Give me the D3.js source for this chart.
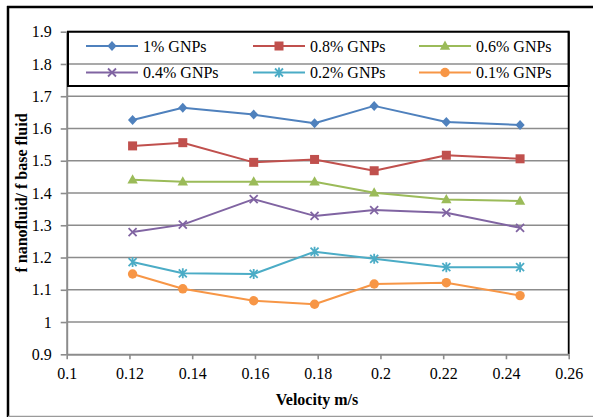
<!DOCTYPE html>
<html>
<head>
<meta charset="utf-8">
<script src="https://cdn.jsdelivr.net/npm/d3@7"></script>
<style>
  html, body { margin: 0; padding: 0; background: #fff; }
  svg { display: block; }
  text { font-family: "Liberation Serif", "Times New Roman", serif; fill: #000; }
</style>
</head>
<body>
<svg id="chart" width="593" height="417"></svg>
<script>
// Velocity (m/s) at each measurement
const velocity = [0.121, 0.137, 0.1596, 0.179, 0.198, 0.221, 0.2445];

// Friction factor ratio f_nanofluid / f_base_fluid per concentration
const seriesNames = ["1% GNPs", "0.8% GNPs", "0.6% GNPs", "0.4% GNPs", "0.2% GNPs", "0.1% GNPs"];
const gnp1  = [1.626, 1.664, 1.643, 1.616, 1.670, 1.620, 1.611];
const gnp08 = [1.546, 1.556, 1.495, 1.504, 1.469, 1.517, 1.506];
const gnp06 = [1.441, 1.435, 1.435, 1.435, 1.401, 1.380, 1.375];
const gnp04 = [1.279, 1.302, 1.381, 1.329, 1.347, 1.339, 1.292];
const gnp02 = [1.186, 1.151, 1.149, 1.218, 1.196, 1.170, 1.170];
const gnp01 = [1.149, 1.103, 1.066, 1.055, 1.118, 1.122, 1.082];

const xTicks = [0.1, 0.12, 0.14, 0.16, 0.18, 0.2, 0.22, 0.24, 0.26];
const yTicks = [0.9, 1, 1.1, 1.2, 1.3, 1.4, 1.5, 1.6, 1.7, 1.8, 1.9];

const seriesValues = [gnp1, gnp08, gnp06, gnp04, gnp02, gnp01];
const colors = ["#4F81BD", "#C0504D", "#9BBB59", "#8064A2", "#4BACC6", "#F79646"];
const symbols = ["diamond", "square", "triangle", "x", "asterisk", "circle"];

const svg = d3.select("#chart");

const plot = { left: 66.7, right: 568.7, top: 31.7, bottom: 354.3 };
const x = d3.scaleLinear().domain([0.1, 0.26]).range([plot.left, plot.right]);
const y = d3.scaleLinear().domain([0.9, 1.9]).range([plot.bottom, plot.top]);

// Outer frame
svg.append("line").attr("x1", 7).attr("x2", 593).attr("y1", 7).attr("y2", 7)
  .attr("stroke", "#000").attr("stroke-width", 2.5);
svg.append("line").attr("x1", 8).attr("x2", 8).attr("y1", 6).attr("y2", 417)
  .attr("stroke", "#000").attr("stroke-width", 2.5);
svg.append("line").attr("x1", 8).attr("x2", 593).attr("y1", 416.3).attr("y2", 416.3)
  .attr("stroke", "#9a9a9a").attr("stroke-width", 1.2);

// Horizontal gridlines
svg.append("g").selectAll("line")
  .data(yTicks.filter(v => v > 0.9))
  .join("line")
  .attr("x1", plot.left).attr("x2", plot.right)
  .attr("y1", d => y(d)).attr("y2", d => y(d))
  .attr("stroke", "#8c8c8c").attr("stroke-width", 1.6);

// Right edge of the plot area
svg.append("line")
  .attr("x1", plot.right).attr("x2", plot.right)
  .attr("y1", plot.top).attr("y2", plot.bottom)
  .attr("stroke", "#000").attr("stroke-width", 1.8);

// Axes
const axisColor = "#8c8c8c";
const gx = svg.append("g").attr("transform", `translate(0,${plot.bottom})`)
  .call(d3.axisBottom(x).tickValues(xTicks).tickFormat(d => String(d)).tickSize(5).tickPadding(8).tickSizeOuter(0));
const gy = svg.append("g").attr("transform", `translate(${plot.left},0)`)
  .call(d3.axisLeft(y).tickValues(yTicks).tickFormat(d => String(d)).tickSize(6).tickPadding(9).tickSizeOuter(0));
[gx, gy].forEach(g => {
  g.select(".domain").attr("stroke", axisColor).attr("stroke-width", 2);
  g.selectAll(".tick line").attr("stroke", axisColor).attr("stroke-width", 1.6);
  g.selectAll(".tick text").attr("font-size", 16).attr("fill", "#000")
    .style("font-family", "'Liberation Serif', 'Times New Roman', serif");
});

// Marker drawing
function drawMarker(g, type, cx, cy, color) {
  const s = 4.6;
  if (type === "diamond") {
    g.append("path").attr("d", `M${cx},${cy - s - 0.4}L${cx + s},${cy}L${cx},${cy + s + 0.4}L${cx - s},${cy}Z`).attr("fill", color);
  } else if (type === "square") {
    g.append("rect").attr("x", cx - 4.5).attr("y", cy - 4.5).attr("width", 9).attr("height", 9).attr("fill", color);
  } else if (type === "triangle") {
    g.append("path").attr("d", `M${cx},${cy - 5.5}L${cx + 5.2},${cy + 3.8}L${cx - 5.2},${cy + 3.8}Z`).attr("fill", color);
  } else if (type === "x") {
    g.append("path").attr("d", `M${cx - 4},${cy - 4}L${cx + 4},${cy + 4}M${cx - 4},${cy + 4}L${cx + 4},${cy - 4}`)
      .attr("stroke", color).attr("stroke-width", 1.8).attr("fill", "none");
  } else if (type === "asterisk") {
    g.append("path").attr("d", `M${cx - 4},${cy - 4}L${cx + 4},${cy + 4}M${cx - 4},${cy + 4}L${cx + 4},${cy - 4}M${cx},${cy - 5}L${cx},${cy + 5}`)
      .attr("stroke", color).attr("stroke-width", 1.8).attr("fill", "none");
  } else if (type === "circle") {
    g.append("circle").attr("cx", cx).attr("cy", cy).attr("r", 4.7).attr("fill", color);
  }
}

// Series lines and markers
const line = d3.line().x((d, i) => x(velocity[i])).y(d => y(d));
seriesValues.forEach((vals, k) => {
  const g = svg.append("g");
  g.append("path").datum(vals).attr("d", line)
    .attr("fill", "none").attr("stroke", colors[k]).attr("stroke-width", 2)
    .attr("stroke-linejoin", "round");
  vals.forEach((v, i) => drawMarker(g, symbols[k], x(velocity[i]), y(v), colors[k]));
});

// Legend
const legend = svg.append("g");
legend.append("rect")
  .attr("x", 68).attr("y", plot.top).attr("width", plot.right - 68).attr("height", 86 - plot.top)
  .attr("fill", "none").attr("stroke", "#000").attr("stroke-width", 2);
const colX = [86, 253, 419];
const rowY = [46, 72.5];
seriesNames.forEach((name, k) => {
  const lx = colX[k % 3], ly = rowY[Math.floor(k / 3)];
  legend.append("line").attr("x1", lx).attr("x2", lx + 52).attr("y1", ly).attr("y2", ly)
    .attr("stroke", colors[k]).attr("stroke-width", 2);
  drawMarker(legend, symbols[k], lx + 26, ly, colors[k]);
  legend.append("text").attr("x", lx + 57).attr("y", ly + 5.5)
    .attr("font-size", 16).text(name);
});

// Axis titles
svg.append("text")
  .attr("transform", "translate(27,193) rotate(-90)")
  .attr("text-anchor", "middle").attr("font-size", 16).attr("font-weight", "bold")
  .text("f nanofluid/ f base fluid");
svg.append("text")
  .attr("x", 317).attr("y", 405)
  .attr("text-anchor", "middle").attr("font-size", 16).attr("font-weight", "bold")
  .text("Velocity m/s");
</script>
</body>
</html>
